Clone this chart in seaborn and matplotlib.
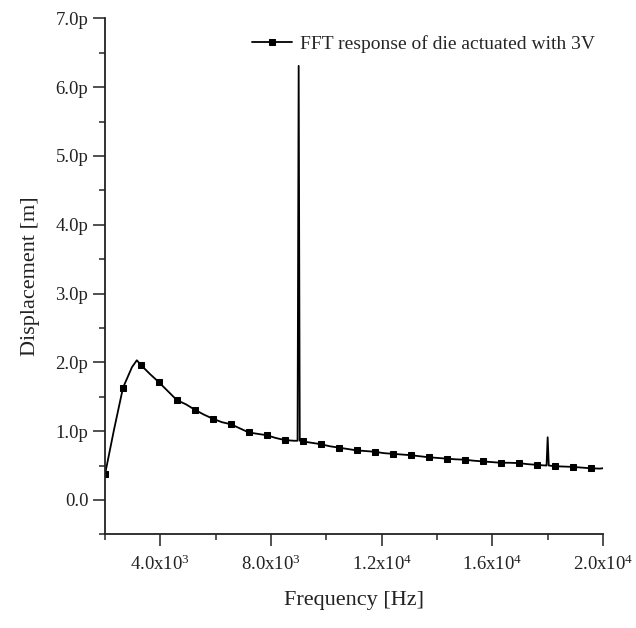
import numpy as np
import pandas as pd
import seaborn as sns
import matplotlib
matplotlib.use('Agg')
import matplotlib.pyplot as plt
from matplotlib.ticker import MultipleLocator, FixedLocator

# values (frequency in Hz, displacement in pm)
freq = [2000, 2325, 2650, 2975, 3150, 3300, 3625, 3950, 4275, 4600, 4925, 5250,
        5575, 5900, 6225, 6550, 6875, 7200, 7525, 7850, 8175, 8500, 8825,
        8960, 9000, 9040, 9150, 9475, 9800, 10125, 10450, 10775, 11100, 11425,
        11750, 12075, 12400, 12725, 13050, 13375, 13700, 14025, 14350, 14675,
        15000, 15325, 15650, 15975, 16300, 16625, 16950, 17275, 17600, 17925,
        17960, 18000, 18040, 18250, 18575, 18900, 19225, 19550, 19875, 20000]
disp = [0.37, 1.02, 1.63, 1.93, 2.03, 1.96, 1.83, 1.71, 1.58, 1.45, 1.39, 1.31,
        1.24, 1.18, 1.13, 1.10, 1.04, 0.98, 0.96, 0.94, 0.90, 0.87, 0.86,
        0.86, 6.31, 0.86, 0.85, 0.83, 0.81, 0.78, 0.76, 0.74, 0.72, 0.71,
        0.70, 0.68, 0.67, 0.66, 0.65, 0.635, 0.62, 0.61, 0.60, 0.59,
        0.585, 0.57, 0.56, 0.55, 0.54, 0.54, 0.535, 0.52, 0.51, 0.50,
        0.50, 0.91, 0.50, 0.49, 0.485, 0.48, 0.47, 0.46, 0.455, 0.46]
series_label = 'FFT response of die actuated with 3V'

y_ticks = [0, 1, 2, 3, 4, 5, 6, 7]
y_labels = ['0.0', '1.0p', '2.0p', '3.0p', '4.0p', '5.0p', '6.0p', '7.0p']
x_ticks = [4000, 8000, 12000, 16000, 20000]
x_labels = [r'4.0x10$^{3}$', r'8.0x10$^{3}$', r'1.2x10$^{4}$',
            r'1.6x10$^{4}$', r'2.0x10$^{4}$']

df = pd.DataFrame({'freq': freq, 'disp': disp})
# Origin puts a symbol on every n-th sample; here every 650 Hz from the start
mark_idx = [i for i, f in enumerate(freq) if (f - 2000) % 650 == 0]

sns.set_style('ticks')
plt.rcParams['font.family'] = ['Liberation Serif', 'DejaVu Serif']
plt.rcParams['mathtext.fontset'] = 'custom'
plt.rcParams['mathtext.rm'] = 'Liberation Serif'
plt.rcParams['mathtext.it'] = 'Liberation Serif:italic'

fig = plt.figure(figsize=(6.36, 6.28), dpi=100)
ax = fig.add_axes([0.1651, 0.1492, 0.783, 0.8215])

sns.lineplot(data=df, x='freq', y='disp', ax=ax, color='black', lw=1.3,
             marker='s', markersize=4.8, markevery=mark_idx,
             markeredgecolor='black', label=series_label, errorbar=None)

ax.set_xlim(2000, 20000)
ax.set_ylim(-0.5, 7.0)
ax.xaxis.set_major_locator(FixedLocator(x_ticks))
ax.set_xticklabels(x_labels)
ax.xaxis.set_minor_locator(FixedLocator([2000, 6000, 10000, 14000, 18000]))
ax.yaxis.set_major_locator(FixedLocator(y_ticks))
ax.set_yticklabels(y_labels)
ax.yaxis.set_minor_locator(MultipleLocator(0.5))

ax.tick_params(which='major', direction='out', length=8.5, width=1.1,
               labelsize=13.5, colors='#222222', pad=3.5)
ax.tick_params(which='minor', direction='out', length=4.5, width=1.1)
ax.tick_params(axis='x', which='major', pad=6)

sns.despine(ax=ax)
for s in ['left', 'bottom']:
    ax.spines[s].set_linewidth(1.3)
    ax.spines[s].set_color('#222222')

ax.set_xlabel('Frequency [Hz]', fontsize=16, labelpad=12, color='#222222')
ax.set_ylabel('Displacement [m]', fontsize=16, labelpad=11, color='#222222')

ax.legend(loc='upper right', bbox_to_anchor=(1.0, 0.983), frameon=False,
          fontsize=14, handlelength=2.1, handletextpad=0.4, borderaxespad=0.0)

fig.savefig('out.png', dpi=100)
